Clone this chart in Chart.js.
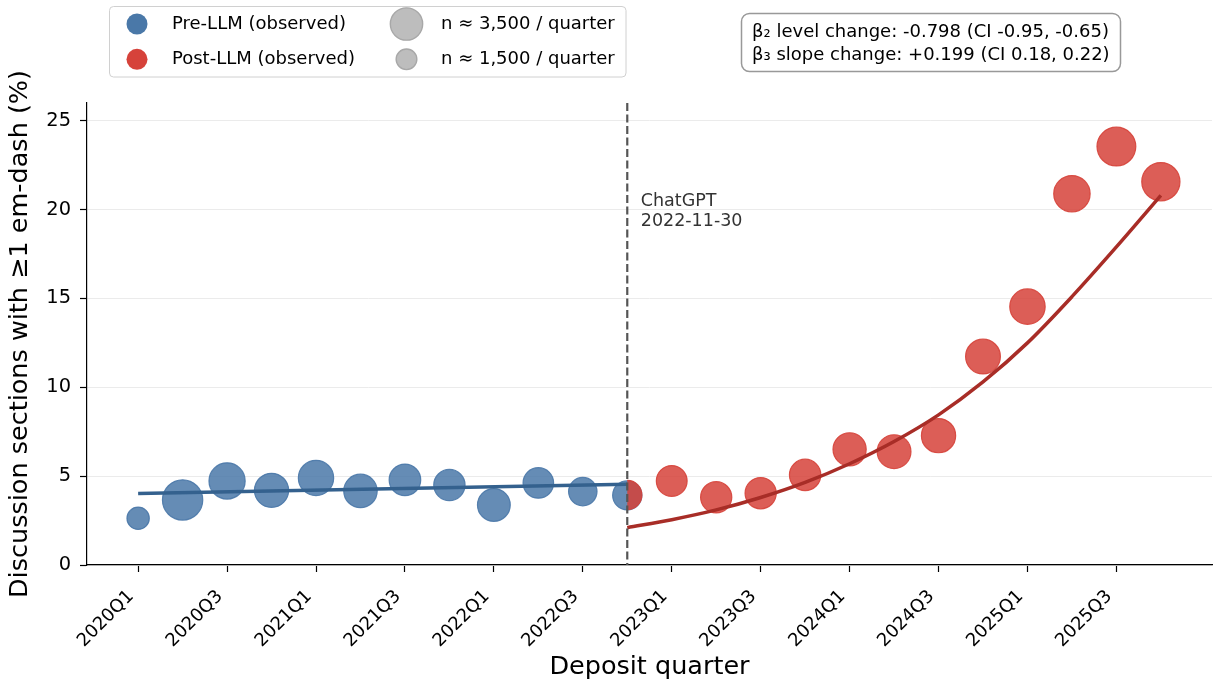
<!DOCTYPE html>
<html>
<head>
<meta charset="utf-8">
<script src="https://cdn.jsdelivr.net/npm/chart.js@4.4.1/dist/chart.umd.min.js"></script>
<style>
  html, body { margin: 0; padding: 0; background: #fff; }
  #wrap { width: 1217px; height: 684px; }
</style>
</head>
<body>
<div id="wrap"><canvas id="chart" width="1217" height="684"></canvas></div>
<script>
// ======= Data =======
const quarters = [
  "2020Q1", "2020Q2", "2020Q3", "2020Q4",
  "2021Q1", "2021Q2", "2021Q3", "2021Q4",
  "2022Q1", "2022Q2", "2022Q3", "2022Q4",
  "2023Q1", "2023Q2", "2023Q3", "2023Q4",
  "2024Q1", "2024Q2", "2024Q3", "2024Q4",
  "2025Q1", "2025Q2", "2025Q3", "2025Q4"
];
const cutoffQuarter = "2022Q4";

// observed share (%) of discussion sections with >=1 em-dash
const preQuarters = quarters.slice(0, 12);            // 2020Q1 .. 2022Q4
const preShare = [2.63, 3.66, 4.73, 4.2, 4.9, 4.17, 4.79, 4.5, 3.38, 4.62, 4.13, 3.92];
const preN = [1700, 5300, 4300, 3850, 4100, 3700, 3300, 3250, 3550, 3100, 2700, 2850];

const postQuarters = quarters.slice(11);               // 2022Q4 .. 2025Q4
const postShare = [3.94, 4.73, 3.81, 4.04, 5.07, 6.51, 6.38, 7.28, 11.73, 14.54, 20.89, 23.55, 21.57];
const postN = [2850, 3150, 3230, 3230, 3270, 3640, 3770, 3860, 3990, 4120, 4350, 4925, 4780];

// fitted segmented-regression curves
const preFitQuarters = ["2020Q1", "2022Q4"];
const preFit = [4.02, 4.55];
const postFit = [2.1, 2.55, 3.1, 3.8, 4.65, 5.7, 6.95, 8.45, 10.3, 12.5, 15.1, 17.9, 20.8];

const yTicks = [0, 5, 10, 15, 20, 25];
const xTickQuarters = quarters.filter((q, i) => i % 2 === 0);

const legendN = [3500, 1500];
const statLines = [
  "β₂ level change: -0.798 (CI -0.95, -0.65)",
  "β₃ slope change: +0.199 (CI 0.18, 0.22)"
];

// ======= Styles =======
const BLUE = "74,120,168";
const RED = "214,66,58";
const SIZE_K = 0.285; // px of radius per sqrt(n)
const FONT = "'DejaVu Sans', sans-serif";

Chart.defaults.font.family = FONT;
Chart.defaults.color = "#000";

const qx = (q) => quarters.indexOf(q);
const pts = (qs, vals) => qs.map((q, i) => ({ x: qx(q), y: vals[i] }));
const bubbleR = (arr) => (c) => SIZE_K * Math.sqrt(arr[c.dataIndex]) - 0.6;

// ======= Overlay (cutoff line, legend, stats box) =======
const POST_DOTS = 3;
const overlay = {
  id: "overlay",
  beforeDatasetDraw(chart, args) {
    if (args.index !== POST_DOTS) return;
    const { ctx, chartArea, scales } = chart;
    const x = scales.x.getPixelForValue(qx(cutoffQuarter));
    ctx.save();
    ctx.beginPath();
    ctx.rect(x, 0, chartArea.right - x + 50, chart.height);
    ctx.clip();
  },
  afterDatasetDraw(chart, args) {
    if (args.index !== POST_DOTS) return;
    chart.ctx.restore();
  },
  afterDatasetsDraw(chart) {
    const { ctx, chartArea, scales } = chart;
    const x = scales.x.getPixelForValue(qx(cutoffQuarter));
    ctx.save();
    ctx.strokeStyle = "#555";
    ctx.lineWidth = 2.2;
    ctx.setLineDash([8, 3.5]);
    ctx.beginPath();
    ctx.moveTo(x, chartArea.top);
    ctx.lineTo(x, chartArea.bottom);
    ctx.stroke();
    ctx.setLineDash([]);
    ctx.fillStyle = "#333";
    ctx.font = "17.5px " + FONT;
    ctx.textAlign = "left";
    ctx.textBaseline = "alphabetic";
    ctx.fillText("ChatGPT", x + 13.5, 206);
    ctx.fillText("2022-11-30", x + 13.5, 226);
    ctx.restore();
  },
  afterDraw(chart) {
    const ctx = chart.ctx;
    ctx.save();

    // legend
    ctx.beginPath();
    ctx.roundRect(109.5, 6.5, 516.5, 70.5, 4);
    ctx.fillStyle = "rgba(255,255,255,0.8)";
    ctx.fill();
    ctx.strokeStyle = "#d0d0d0";
    ctx.lineWidth = 1;
    ctx.stroke();

    const rows = [24, 59.3];
    const dot = (x, y, r, fill, edge) => {
      ctx.beginPath();
      ctx.arc(x, y, r, 0, Math.PI * 2);
      ctx.fillStyle = fill;
      ctx.fill();
      if (edge) { ctx.strokeStyle = edge; ctx.lineWidth = 1.4; ctx.stroke(); }
    };
    dot(137, rows[0], 10.5, `rgb(${BLUE})`);
    dot(137, rows[1], 10.5, `rgb(${RED})`);
    legendN.forEach((n, i) => dot(406.5, rows[i], SIZE_K * Math.sqrt(n) - 0.7, "#bdbdbd", "#a8a8a8"));

    ctx.fillStyle = "#000";
    ctx.font = "18px " + FONT;
    ctx.textAlign = "left";
    ctx.textBaseline = "middle";
    ctx.fillText("Pre-LLM (observed)", 172, rows[0]);
    ctx.fillText("Post-LLM (observed)", 172, rows[1]);
    legendN.forEach((n, i) => ctx.fillText(`n ≈ ${n.toLocaleString("en-US")} / quarter`, 441, rows[i]));

    // stats box
    ctx.beginPath();
    ctx.roundRect(741.5, 13.5, 379, 58, 8);
    ctx.fillStyle = "#fff";
    ctx.fill();
    ctx.strokeStyle = "#999";
    ctx.lineWidth = 1.5;
    ctx.stroke();
    ctx.fillStyle = "#000";
    ctx.textBaseline = "alphabetic";
    ctx.fillText(statLines[0], 752, 37);
    ctx.fillText(statLines[1], 752, 59.5);

    ctx.restore();
  }
};

// ======= Chart =======
new Chart(document.getElementById("chart"), {
  type: "scatter",
  data: {
    datasets: [
      {
        type: "line", data: pts(preFitQuarters, preFit), order: 0,
        borderColor: "#34618e", borderWidth: 3.5, pointRadius: 0, borderCapStyle: "butt"
      },
      {
        type: "line", data: pts(postQuarters, postFit), order: 0,
        borderColor: "#a82d27", borderWidth: 3.5, pointRadius: 0, cubicInterpolationMode: "monotone"
      },
      {
        data: pts(preQuarters, preShare), order: 2, clip: false,
        backgroundColor: `rgba(${BLUE},0.85)`, borderColor: `rgba(${BLUE},0.9)`, borderWidth: 1.2,
        pointRadius: bubbleR(preN), pointHoverRadius: bubbleR(preN)
      },
      {
        data: pts(postQuarters, postShare), order: 1, clip: false,
        backgroundColor: `rgba(${RED},0.85)`, borderColor: `rgba(${RED},0.9)`, borderWidth: 1.2,
        pointRadius: bubbleR(postN), pointHoverRadius: bubbleR(postN)
      }
    ]
  },
  options: {
    responsive: false,
    animation: false,
    layout: { autoPadding: false, padding: { top: 103, right: 5, left: 0, bottom: 0 } },
    plugins: { legend: { display: false }, tooltip: { enabled: false } },
    scales: {
      x: {
        type: "linear", min: -1.15, max: 24.15,
        afterBuildTicks: (s) => { s.ticks = xTickQuarters.map((q) => ({ value: qx(q) })); },
        afterFit: (s) => { s.height = 119; s.paddingLeft = 0; s.paddingRight = 0; },
        ticks: {
          callback: (v) => quarters[v], autoSkip: false,
          minRotation: 45, maxRotation: 45, padding: 14, labelOffset: -7,
          font: { size: 18 }, color: "#000"
        },
        grid: { drawOnChartArea: false, tickLength: 7, tickColor: "#000", tickWidth: 1.2 },
        border: { color: "#000", width: 1.2 },
        title: { display: true, text: "Deposit quarter", font: { size: 25.5 }, color: "#000", padding: { top: 0, bottom: 1 } }
      },
      y: {
        min: 0, max: 26,
        afterBuildTicks: (s) => { s.ticks = yTicks.map((v) => ({ value: v })); },
        afterFit: (s) => { s.width = 87; s.paddingTop = 0; s.paddingBottom = 0; },
        ticks: { padding: 9, font: { size: 19.4 }, color: "#000" },
        grid: { color: "#ebebeb", lineWidth: 1, tickLength: 7, tickColor: "#000", tickWidth: 1.2 },
        border: { color: "#000", width: 1.2 },
        title: { display: true, text: "Discussion sections with ≥1 em-dash (%)", font: { size: 25.5 }, color: "#000", padding: { top: 5, bottom: 0 } }
      }
    }
  },
  plugins: [overlay]
});
</script>
</body>
</html>
